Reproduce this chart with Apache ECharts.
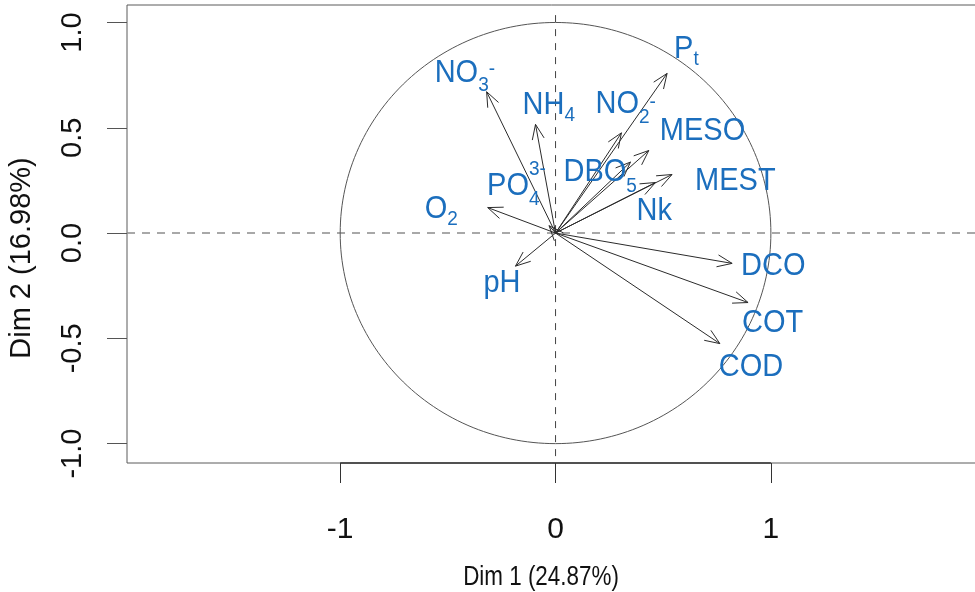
<!DOCTYPE html>
<html>
<head>
<meta charset="utf-8">
<script src="https://cdn.jsdelivr.net/npm/echarts@6/dist/echarts.min.js"></script>
<style>
  html, body { margin: 0; padding: 0; background: #fff; }
  #chart { width: 975px; height: 592px; }
</style>
</head>
<body>
<div id="chart"></div>
<script>
// PCA variable coordinates on the first two dimensions
const varNames = ['NO3-', 'NH4', 'NO2-', 'Pt', 'MESO', 'MEST', 'Nk', 'DBO5', 'O2', 'PO4 3-', 'pH', 'DCO', 'COT', 'COD'];
const dim1 = [-0.320, -0.093, 0.306, 0.518, 0.433, 0.541, 0.464, 0.348, -0.315, -0.030, -0.186, 0.820, 0.894, 0.763];
const dim2 = [0.671, 0.516, 0.476, 0.758, 0.392, 0.278, 0.240, 0.337, 0.121, 0.035, -0.157, -0.144, -0.330, -0.525];
const xTicks = [-1, 0, 1];
const yTicks = [-1, -0.5, 0, 0.5, 1];
const xTitle = 'Dim 1 (24.87%)';
const yTitle = 'Dim 2 (16.98%)';

// Axis ranges of the plotting box
const X_MIN = -1.99, X_MAX = 2.05;
const Y_MIN = -1.092, Y_MAX = 1.083;

// Typography of each variable label: base text, subscript, superscript,
// and pixel offsets of the label from its arrow tip.
const BLUE = '#1b6ebd';
const FONT = '"Liberation Sans", Arial, sans-serif';
const BASE_SIZE = 29, SMALL_SIZE = 19;
const labelParts = {
  'NO3-':   { base: 'NO',   sub: '3', sup: '-',  dx: -52, dy: -18, subDy: 11, supDy: -4,  supAfterSub: true },
  'NH4':    { base: 'NH',   sub: '4',            dx: -13, dy: -19, subDy: 9 },
  'NO2-':   { base: 'NO',   sub: '2', sup: '-',  dx: -26, dy: -28, subDy: 12, supDy: -2,  supAfterSub: true },
  'Pt':     { base: 'P',    sub: 't',            dx: 7,   dy: -24, subDy: 9 },
  'MESO':   { base: 'MESO',                      dx: 11,  dy: -19 },
  'MEST':   { base: 'MEST',                      dx: 23,  dy: 7 },
  'Nk':     { base: 'Nk',                        dx: -19, dy: 29 },
  'DBO5':   { base: 'DBO',  sub: '5',            dx: -67, dy: 10, subDy: 13 },
  'O2':     { base: 'O',    sub: '2',            dx: -63, dy: 2,  subDy: 9 },
  'PO4 3-': { base: 'PO',   sub: '4', sup: '3-', dx: -62, dy: -39, subDy: 12, supDy: -16, supAfterSub: false },
  'pH':     { base: 'pH',                        dx: -32, dy: 17 },
  'DCO':    { base: 'DCO',                       dx: 9,   dy: 3 },
  'COT':    { base: 'COT',                       dx: -6,  dy: 21 },
  'COD':    { base: 'COD',                       dx: -1,  dy: 24 }
};

const measureCtx = document.createElement('canvas').getContext('2d');
function textWidth(str, size) {
  measureCtx.font = size + 'px ' + FONT;
  return measureCtx.measureText(str).width;
}

const points = varNames.map((n, i) => [dim1[i], dim2[i], n]);

// Correlation circle plus the two dashed reference lines
function renderFrame(params, api) {
  const cs = params.coordSys;
  const ring = [];
  for (let k = 0; k <= 240; k++) {
    const a = k / 240 * 2 * Math.PI;
    ring.push(api.coord([Math.cos(a), Math.sin(a)]));
  }
  const o = api.coord([0, 0]);
  const vTop = api.coord([0, 1.035]);
  const axL = api.coord([-1, Y_MIN]);
  const axR = api.coord([1, Y_MIN]);
  return {
    type: 'group',
    children: [
      { type: 'line', shape: { x1: cs.x, y1: o[1], x2: cs.x + cs.width, y2: o[1] },
        style: { stroke: '#8c8c8c', lineWidth: 1.6, lineDash: [8, 7] } },
      { type: 'line', shape: { x1: o[0], y1: vTop[1], x2: o[0], y2: cs.y + cs.height },
        style: { stroke: '#444', lineWidth: 1, lineDash: [7, 7] } },
      { type: 'polyline', shape: { points: ring },
        style: { stroke: '#555', lineWidth: 1, fill: null } },
      { type: 'line', shape: { x1: axL[0], y1: axL[1], x2: axR[0], y2: axR[1] },
        style: { stroke: '#333', lineWidth: 1.3 } }
    ]
  };
}

// One arrow from the origin to each variable
function renderArrow(params, api) {
  const o = api.coord([0, 0]);
  const t = api.coord([api.value(0), api.value(1)]);
  const ang = Math.atan2(t[1] - o[1], t[0] - o[0]);
  const L = 16, A = 22 * Math.PI / 180;
  const a1 = [t[0] - L * Math.cos(ang - A), t[1] - L * Math.sin(ang - A)];
  const a2 = [t[0] - L * Math.cos(ang + A), t[1] - L * Math.sin(ang + A)];
  const st = { stroke: '#2b2b2b', lineWidth: 1, fill: null };
  return {
    type: 'group',
    children: [
      { type: 'line', shape: { x1: o[0], y1: o[1], x2: t[0], y2: t[1] }, style: st },
      { type: 'polyline', shape: { points: [a1, t, a2] }, style: st }
    ]
  };
}

// Variable names next to the arrow tips, with chemical sub/superscripts
function renderLabel(params, api) {
  const p = labelParts[varNames[params.dataIndex]];
  const t = api.coord([api.value(0), api.value(1)]);
  const w = textWidth(p.base, BASE_SIZE);
  const txt = (s, x, y, size) => ({
    type: 'text', x: x, y: y, silent: true,
    style: { text: s, fill: BLUE, fontSize: size, fontFamily: FONT, align: 'left', verticalAlign: 'middle' }
  });
  const children = [txt(p.base, 0, 0, BASE_SIZE)];
  if (p.sub) children.push(txt(p.sub, w, p.subDy, SMALL_SIZE));
  if (p.sup) {
    const sx = p.supAfterSub ? w + textWidth(p.sub, SMALL_SIZE) : w;
    children.push(txt(p.sup, sx, p.supDy, SMALL_SIZE));
  }
  return { type: 'group', x: t[0] + p.dx, y: t[1] + p.dy, scaleY: 1.08, children: children };
}

const chart = echarts.init(document.getElementById('chart'), null, { renderer: 'canvas' });
chart.setOption({
  animation: false,
  backgroundColor: '#fff',
  grid: {
    left: 127, top: 5, width: 870, height: 458,
    outerBoundsMode: 'none', containLabel: false,
    show: true, borderColor: '#5a5a5a', borderWidth: 1
  },
  xAxis: {
    type: 'value', min: X_MIN, max: X_MAX,
    axisLine: { show: false, onZero: false },
    splitLine: { show: false },
    axisTick: { show: true, customValues: xTicks, length: 20, lineStyle: { color: '#333', width: 1 } },
    axisLabel: {
      customValues: xTicks, margin: 52, color: '#111',
      fontFamily: FONT, fontSize: 30,
      formatter: v => String(v)
    }
  },
  yAxis: {
    type: 'value', min: Y_MIN, max: Y_MAX,
    axisLine: { show: false, onZero: false },
    splitLine: { show: false },
    axisTick: { show: true, customValues: yTicks, length: 20, lineStyle: { color: '#555', width: 1 } },
    axisLabel: {
      customValues: yTicks, margin: 40, rotate: 90, color: '#111',
      fontFamily: FONT, fontSize: 29, padding: [0, 20, 0, 0],
      formatter: v => v.toFixed(1)
    }
  },
  graphic: [
    { type: 'text', x: 541, y: 578, scaleX: 0.83, silent: true,
      style: { text: xTitle, fill: '#111', fontSize: 27, fontFamily: FONT,
        align: 'center', verticalAlign: 'middle' } },
    { type: 'text', x: 22, y: 258, rotation: Math.PI / 2, silent: true,
      style: { text: yTitle, fill: '#111', fontSize: 29, fontFamily: FONT,
        align: 'center', verticalAlign: 'middle' } }
  ],
  series: [
    { type: 'custom', data: [[0, 0]], renderItem: renderFrame, silent: true, z: 1 },
    { type: 'custom', data: points, renderItem: renderArrow, silent: true, z: 2 },
    { type: 'custom', data: points, renderItem: renderLabel, silent: true, z: 3 }
  ]
});
</script>
</body>
</html>
